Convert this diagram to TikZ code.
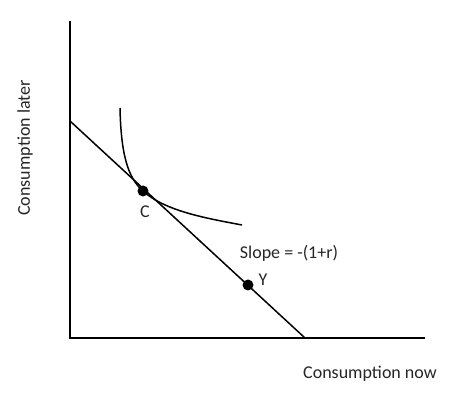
\documentclass[tikz,border=0pt]{standalone}
\usepackage{fontspec}
\setmainfont{Carlito}
\begin{document}
\begin{tikzpicture}[x=1pt,y=-1pt,
  axis/.style={line width=1.8pt,black},
  curve/.style={line width=1.5pt,black},
  dot/.style={circle,fill=black,inner sep=0pt,minimum size=11pt},
  lbl/.style={font=\fontsize{18}{20}\selectfont,text=black!85,inner sep=0pt}]
\useasboundingbox (0,0) rectangle (451,398);
\coordinate (top) at (70,21);
\coordinate (origin) at (70,338);
\coordinate (xend) at (425,338);
\coordinate (b1) at (70,121);
\coordinate (b2) at (305,338);
\coordinate (i1) at (120,108);
\coordinate (i2) at (242,225);
\draw[axis] (top) -- (origin) -- (xend);
\draw[curve] (b1) -- (b2);
\node[dot] (C) at (143,191) {};
\node[dot] (Y) at (248,285) {};
\draw[curve] (i1) .. controls (121,155) and (128,178) .. (C.center)
  .. controls (165,211) and (205,218) .. (i2);
\node[lbl] (Cl) at (145,212) {C};
\node[lbl] (Yl) at (263,280) {Y};
\node[lbl] (sl) at (289,253) {Slope = -(1+r)};
\node[lbl,rotate=90] (yl) at (25,148) {Consumption later};
\node[lbl] (xl) at (370,374) {Consumption now};
\end{tikzpicture}
\end{document}
